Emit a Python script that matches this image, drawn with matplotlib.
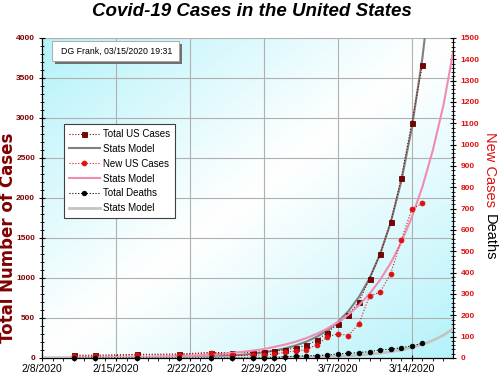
#============ Covid-19 cases chart ============
import numpy as np
import matplotlib
matplotlib.use('Agg')
import matplotlib.pyplot as plt
from matplotlib.ticker import MultipleLocator, FixedLocator, FixedFormatter
from matplotlib.patches import Rectangle
from datetime import date

plt.rcParams['font.family'] = ['Liberation Sans', 'DejaVu Sans']
plt.rcParams['axes.linewidth'] = 0.8

#=================Data==============================================
start = date(2020, 2, 8)
obs_dates = ['2/11', '2/13', '2/17', '2/21', '2/24', '2/26', '2/28', '2/29', '3/1', '3/2', '3/3',
             '3/4', '3/5', '3/6', '3/7', '3/8', '3/9', '3/10', '3/11', '3/12', '3/13', '3/14', '3/15']
total_cases = [35, 35, 45, 50, 68, 68, 68, 79, 87, 100, 127, 158, 221, 316, 429, 541, 704, 991,
               1300, 1694, 2246, 2941, 3663]
new_cases = [9, 9, 14, 15, 25, 12, 12, 15, 18, 27, 33, 39, 62, 98, 114, 105, 161, 291, 308, 395,
             552, 697, 725]
total_deaths = [0, 0, 0, 0, 0, 0, 0, 1, 1, 6, 8, 11, 11, 14, 19, 22, 25, 30, 38, 41, 48, 57, 69]

# stats model curves, sampled once a day (day 0 = 2/8/2020)
model_days = list(range(0, 39)) + [38.9]
total_model = [0.3, 0.4, 0.5, 0.6, 0.8, 1.0, 1.3, 1.7, 2.3, 3.0, 3.9, 5.0, 6.5, 8.5, 11, 14, 19,
               24, 32, 41, 54, 70, 92, 120, 156, 203, 265, 345, 450, 586, 764, 996, 1298, 1692,
               2205, 2874, 3746, 4883, 6364, 8085]
new_model = [0.7, 0.8, 1.0, 1.2, 1.5, 1.8, 2.2, 2.7, 3.3, 4.0, 4.9, 6.0, 7.3, 8.8, 10.7, 13, 16,
             19, 24, 29, 35, 42, 52, 63, 76, 93, 113, 138, 167, 203, 247, 301, 366, 445, 542,
             659, 802, 975, 1186, 1430]
deaths_model = [0.0, 0.0, 0.0, 0.0, 0.0, 0.02, 0.03, 0.04, 0.05, 0.06, 0.08, 0.1, 0.13, 0.17,
                0.22, 0.28, 0.37, 0.48, 0.62, 0.8, 1.0, 1.3, 1.7, 2.2, 2.9, 3.7, 4.8, 6.2, 8.0,
                10.4, 13.5, 17.4, 22.6, 29.3, 37.9, 49.1, 63.6, 82.4, 106.8, 136.0]

xtick_days = [0, 7, 14, 21, 28, 35]
xtick_labels = ['2/8/2020', '2/15/2020', '2/22/2020', '2/29/2020', '3/7/2020', '3/14/2020']
stamp = 'DG Frank, 03/15/2020 19:31'

#=================Convert dates to day numbers======================
obs_days = [(date(2020, int(s.split('/')[0]), int(s.split('/')[1])) - start).days for s in obs_dates]

#=================Colors=============================================
maroon = '#800000'
red = '#DD1010'
pink = '#F08CB4'

#=================Figure / axes======================================
fig = plt.figure(figsize=(5.0, 3.83), dpi=100)
pos = [0.084, 0.0653, 0.822, 0.8355]

# gradient background: cyan in the top-left and bottom-right corners, white along the diagonal
bg = fig.add_axes(pos, zorder=0)
gx, gy = np.meshgrid(np.linspace(0, 1, 300), np.linspace(0, 1, 300))
u = (gx + gy) / 2.0          # row 0 is top (imshow origin upper)
c = np.abs(u - 0.5) * 2
c = c ** 1.1
cyan = np.array([0.70, 0.95, 0.98])
img = (1 - c[..., None]) * np.ones(3) + c[..., None] * cyan
bg.imshow(img, aspect='auto', extent=(0, 1, 0, 1))
bg.axis('off')

ax1 = fig.add_axes(pos, zorder=1)
ax1.patch.set_alpha(0)
ax2 = ax1.twinx()
ax2.set_zorder(2)
ax2.patch.set_visible(False)

#=================Plot==============================================
dots = (0, (1, 1.6))
ax1.plot(model_days, total_model, color='#808080', lw=1.5, zorder=2)
l_tot, = ax1.plot(obs_days, total_cases, linestyle=dots, color=maroon, lw=0.8, marker='s',
                  markersize=3.6, markeredgecolor='#5a0000', markeredgewidth=0.6,
                  markerfacecolor=maroon, clip_on=False, zorder=3)
ax2.plot(model_days, new_model, color=pink, lw=1.5, zorder=2)
ax2.plot(model_days, deaths_model, color='#C4C4C4', lw=2.0, zorder=2)
l_new, = ax2.plot(obs_days, new_cases, linestyle=dots, color=red, lw=0.8, marker='o',
                  markersize=3.5, markeredgecolor=red, markeredgewidth=0.6, clip_on=False, zorder=3)
l_dth, = ax2.plot(obs_days, total_deaths, linestyle=dots, color='black', lw=0.8, marker='o',
                  markersize=3.3, markeredgecolor='black', markeredgewidth=0.6, clip_on=False,
                  zorder=4)

#=================Axis settings======================================
ax1.set_xlim(0, 38.9)
ax1.set_ylim(0, 4000)
ax2.set_ylim(0, 1500)
ax1.xaxis.set_major_locator(FixedLocator(xtick_days))
ax1.xaxis.set_major_formatter(FixedFormatter(xtick_labels))
ax1.xaxis.set_minor_locator(MultipleLocator(1))
ax1.yaxis.set_major_locator(MultipleLocator(500))
ax1.yaxis.set_minor_locator(MultipleLocator(100))
ax2.yaxis.set_major_locator(MultipleLocator(100))
ax2.yaxis.set_minor_locator(MultipleLocator(20))

ax1.grid(True, which='major', color='#B0B0B0', lw=0.8)
for ax in (ax1, ax2):
    ax.spines['top'].set_visible(False)

ax1.tick_params(axis='x', which='major', direction='inout', length=5, width=0.8, labelsize=7.5, pad=2)
ax1.tick_params(axis='x', which='minor', direction='out', length=2.5, width=0.6)
ax1.tick_params(axis='y', which='major', direction='inout', length=5, width=0.8, labelsize=6,
                labelcolor=maroon, pad=2.5)
ax1.tick_params(axis='y', which='minor', direction='inout', length=2.5, width=0.6)
ax2.tick_params(axis='y', which='major', direction='inout', length=5, width=0.8, labelsize=6,
                labelcolor=red, pad=3)
ax2.tick_params(axis='y', which='minor', direction='inout', length=2.5, width=0.6)
for lab in ax1.get_yticklabels() + ax2.get_yticklabels():
    lab.set_fontweight('bold')

#=================Labels=============================================
fig.text(0.503, 1 - 12 / 383, 'Covid-19 Cases in the United States', ha='center', va='center',
         fontsize=13.5, fontweight='bold', style='italic')
fig.text(0.016, 1 - 238 / 383, 'Total Number of Cases', rotation=90, ha='center', va='center',
         fontsize=12, fontweight='bold', color=maroon, family='DejaVu Sans')
fig.text(0.980, 1 - 170 / 383, 'New Cases', rotation=270, ha='center', va='center',
         fontsize=10.5, color=red)
fig.text(0.980, 1 - 237 / 383, 'Deaths', rotation=270, ha='center', va='center',
         fontsize=10.5, color='black')

# stamp box with a drop shadow
fig.patches.append(Rectangle((55 / 500, 1 - 64 / 383), 127 / 500, 20 / 383, transform=fig.transFigure,
                             facecolor='#707070', edgecolor='none', zorder=6))
fig.patches.append(Rectangle((52 / 500, 1 - 61 / 383), 127 / 500, 20 / 383, transform=fig.transFigure,
                             facecolor='white', edgecolor='#A0A0A0', lw=0.6, zorder=7))
fig.text(116.5 / 500, 1 - 51 / 383, stamp, ha='center', va='center', fontsize=6.3, zorder=8)

#=================Legend=============================================
h_tm = plt.Line2D([], [], color='#808080', lw=1.5)
h_nm = plt.Line2D([], [], color=pink, lw=1.5)
h_dm = plt.Line2D([], [], color='#C4C4C4', lw=2.0)
leg = fig.legend([l_tot, h_tm, l_new, h_nm, l_dth, h_dm],
                 ['Total US Cases', 'Stats Model', 'New US Cases', 'Stats Model', 'Total Deaths',
                  'Stats Model'],
                 loc='upper left', bbox_to_anchor=(0.128, 0.676), fontsize=7, frameon=True,
                 fancybox=False, edgecolor='#404040', framealpha=1, handlelength=3.2,
                 handletextpad=0.3, labelspacing=0.5, borderpad=0.5, borderaxespad=0)
leg.get_frame().set_linewidth(0.8)
leg.set_zorder(10)

fig.savefig('out.png', dpi=100)
